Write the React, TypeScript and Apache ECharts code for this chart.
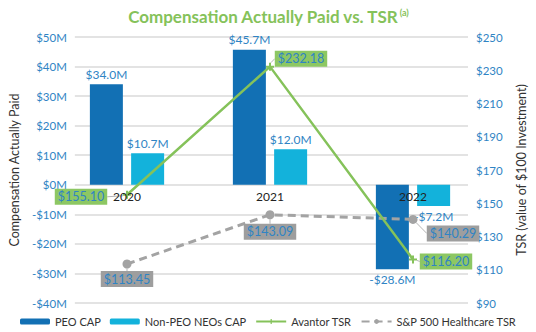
import React, { useEffect, useRef } from "react";
import * as echarts from "echarts";

const years = ["2020", "2021", "2022"];
const peoCap = [34.0, 45.7, -28.6];
const neoCap = [10.7, 12.0, -7.2];
const avantorTsr = [155.1, 232.18, 116.2];
const spHealthTsr = [113.45, 143.09, 140.29];
const rightTicks = [90, 110, 130, 150, 170, 190, 210, 230, 250];

const FONT = "Lato";
const BLUE_TXT = "#2f84c4";
const GREEN = "#85c25a";
const GRAY = "#a3a3a3";

// label offsets (px) from each point, per line series
const labelShift: Record<number, number[][]> = {
  2: [[-46, 2], [31, -8], [33, 2]],
  3: [[0, 15], [0, 17], [40, 14]],
};

const money = (v: number) => (v < 0 ? "-$" : "$") + Math.abs(v).toFixed(1) + "M";

export default function App() {
  const ref = useRef<HTMLDivElement>(null);
  useEffect(() => {
    document.body.style.margin = "0";
    const chart = echarts.init(ref.current!, null, { renderer: "svg" });
    const barLabel = {
      show: true,
      color: BLUE_TXT,
      fontFamily: FONT,
      fontSize: 12,
      distance: 4,
      formatter: (p: any) => money(p.value),
    };
    const lineLabel = (bg: string) => ({
      show: true,
      position: "inside",
      align: "center",
      verticalAlign: "middle",
      backgroundColor: bg,
      color: BLUE_TXT,
      fontFamily: FONT,
      fontSize: 12.5,
      padding: [2, 3, 1, 3],
      formatter: (p: any) => "$" + p.value.toFixed(2),
    });
    const layout = (params: any) => {
      const s = labelShift[params.seriesIndex];
      if (!s) return {};
      const [dx, dy] = s[params.dataIndex];
      const cx = params.rect.x + params.rect.width / 2;
      const cy = params.rect.y + params.rect.height / 2;
      return { x: cx + dx, y: cy + dy, align: "center", verticalAlign: "middle" };
    };
    const hiddenAxis = {
      axisLine: { show: false },
      axisTick: { show: false },
      axisLabel: { show: false },
      splitLine: { show: false },
    };
    chart.setOption({
      animation: false,
      textStyle: { fontFamily: FONT },
      title: {
        text: "Compensation Actually Paid vs. TSR{sup|(a)}",
        left: "center",
        top: 3,
        textStyle: {
          color: GREEN,
          fontFamily: FONT,
          fontWeight: "bold",
          fontSize: 17,
          rich: { sup: { color: GREEN, fontFamily: FONT, fontSize: 9, verticalAlign: "top", padding: [0, 0, 8, 1] } },
        },
      },
      legend: {
        left: 20,
        top: 316,
        padding: 0,
        width: 516,
        itemWidth: 30,
        itemHeight: 6,
        itemGap: 9,
        textStyle: { color: "#333", fontFamily: FONT, fontSize: 11 },
        data: ["PEO CAP", "Non-PEO NEOs CAP", "Avantor TSR", "S&P 500 Healthcare TSR"],
      },
      grid: [
        { left: 54, right: 62, top: 37, bottom: 29 },
        { left: 55.5, right: 51.5, top: 37, bottom: 29 },
      ],
      xAxis: [
        {
          type: "category",
          gridIndex: 1,
          data: years,
          z: 10,
          position: "bottom",
          offset: -118,
          axisLine: { show: false, onZero: false },
          axisTick: { show: false },
          axisLabel: { color: "#222", fontFamily: FONT, fontSize: 12, margin: 5 },
        },
        { type: "category", gridIndex: 0, data: years, ...hiddenAxis },
      ],
      yAxis: [
        {
          type: "value",
          gridIndex: 0,
          min: -40,
          max: 50,
          interval: 10,
          name: "Compensation Actually Paid",
          nameLocation: "middle",
          nameRotate: 90,
          nameGap: 38,
          nameTextStyle: { color: "#333", fontFamily: FONT, fontSize: 12.5 },
          axisLine: { show: false },
          axisTick: { show: false },
          axisLabel: { color: BLUE_TXT, fontFamily: FONT, fontSize: 11.5, margin: 8, formatter: (v: number) => (v < 0 ? "-$" + -v + "M" : "$" + v + "M") },
          splitLine: { lineStyle: { color: "#dadada", width: 1.5 } },
        },
        {
          type: "value",
          gridIndex: 0,
          position: "right",
          min: 90,
          max: 250,
          name: "TSR (value of $100 Investment)",
          nameLocation: "middle",
          nameRotate: 90,
          nameGap: 47,
          nameTextStyle: { color: "#333", fontFamily: FONT, fontSize: 12.5 },
          axisLine: { show: false },
          axisTick: { show: false },
          splitLine: { show: false },
          axisLabel: { customValues: rightTicks, color: BLUE_TXT, fontFamily: FONT, fontSize: 11.5, margin: 8, formatter: (v: number) => "$" + v },
        },
        { type: "value", gridIndex: 1, min: -40, max: 50, ...hiddenAxis },
        { type: "value", gridIndex: 1, position: "right", min: 90, max: 250, ...hiddenAxis },
      ],
      series: [
        {
          name: "PEO CAP",
          type: "bar",
          xAxisIndex: 0,
          yAxisIndex: 2,
          barWidth: 33,
          barGap: "25%",
          itemStyle: { color: "#1270b4" },
          label: barLabel,
          data: peoCap.map((v) => ({ value: v, label: { position: v < 0 ? "bottom" : "top" } })),
        },
        {
          name: "Non-PEO NEOs CAP",
          type: "bar",
          xAxisIndex: 0,
          yAxisIndex: 2,
          barWidth: 33,
          barGap: "25%",
          itemStyle: { color: "#13b2db" },
          label: barLabel,
          data: neoCap.map((v) => ({ value: v, label: { position: v < 0 ? "bottom" : "top" } })),
        },
        {
          name: "Avantor TSR",
          type: "line",
          xAxisIndex: 0,
          yAxisIndex: 3,
          z: 4,
          symbol: "path://M3,0H5V3H8V5H5V8H3V5H0V3H3Z",
          symbolSize: 8,
          itemStyle: { color: GREEN },
          lineStyle: { color: GREEN, width: 2.5 },
          label: lineLabel("#8dc763"),
          labelLine: { show: true, lineStyle: { color: "#b5b5b5", width: 1 } },
          labelLayout: layout,
          data: avantorTsr,
        },
        {
          name: "S&P 500 Healthcare TSR",
          type: "line",
          xAxisIndex: 0,
          yAxisIndex: 3,
          z: 3,
          symbol: "circle",
          symbolSize: 9,
          itemStyle: { color: GRAY },
          lineStyle: { color: GRAY, width: 3, type: [8, 5] },
          label: lineLabel("#9e9e9e"),
          labelLine: { show: true, lineStyle: { color: "#b5b5b5", width: 1 } },
          labelLayout: layout,
          data: spHealthTsr,
        },
      ],
    });
    return () => chart.dispose();
  }, []);
  return <div ref={ref} style={{ width: 536, height: 332 }} />;
}
